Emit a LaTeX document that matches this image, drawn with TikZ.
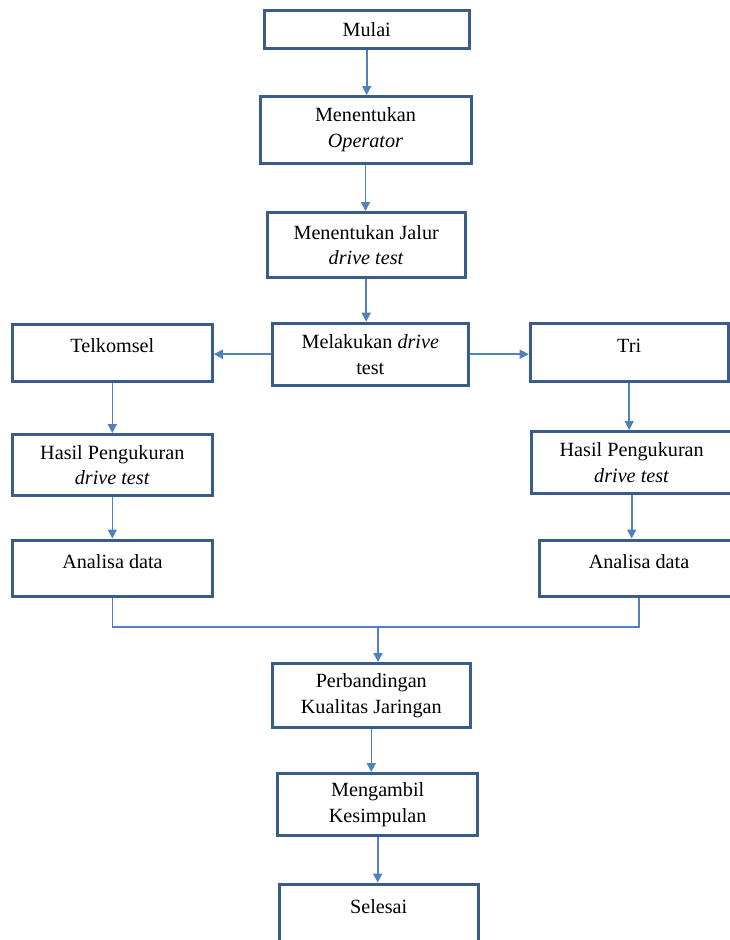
\documentclass[tikz,border=0pt]{standalone}
\usepackage{fontspec}
\setmainfont{Liberation Serif}
\usetikzlibrary{arrows.meta}
\definecolor{garisbiru}{RGB}{56,93,138}
\definecolor{panahbiru}{RGB}{79,129,189}

\begin{document}
\begin{tikzpicture}[x=1pt,y=-1pt,
	kotak/.style={draw=garisbiru,line width=3pt,align=center,inner sep=0pt,
		font=\fontsize{20.2}{25.8}\selectfont},
	teksatas/.style={text height=14pt,text depth=14pt},
	panah/.style={draw=panahbiru,line width=1.6pt,-{Triangle[length=9pt,width=9pt]}},
	sambung/.style={draw=panahbiru,line width=1.6pt}]
	\useasboundingbox (0,0) rectangle (730,940);
	\clip (0,0) rectangle (730,940);
	% alur tengah
	\node[kotak,minimum width=205pt,minimum height=38pt] (mulai) at (366.7,29.2) {Mulai};
	\node[kotak,minimum width=211pt,minimum height=67pt] (operator) at (365.5,130) {Menentukan\\\textit{Operator}};
	\node[kotak,minimum width=198pt,minimum height=65pt] (jalur) at (366.2,245) {Menentukan Jalur\\\textit{drive test}};
	\node[kotak,minimum width=196pt,minimum height=62pt] (lakukan) at (370.3,354.2) {Melakukan \textit{drive}\\test};
	% cabang kiri
	\node[kotak,teksatas,minimum width=200pt,minimum height=57pt] (telkomsel) at (112.3,352.7) {Telkomsel};
	\node[kotak,minimum width=200pt,minimum height=61pt] (hasilkiri) at (112.3,465) {Hasil Pengukuran\\\textit{drive test}};
	\node[kotak,teksatas,minimum width=200pt,minimum height=56pt] (analisakiri) at (112.5,568) {Analisa data};
	% cabang kanan
	\node[kotak,teksatas,minimum width=198pt,minimum height=58pt] (tri) at (629.2,352.2) {Tri};
	\node[kotak,minimum width=200pt,minimum height=62pt] (hasilkanan) at (631.7,462.5) {Hasil Pengukuran\\\textit{drive test}};
	\node[kotak,teksatas,minimum width=200pt,minimum height=56pt] (analisakanan) at (639,568) {Analisa data};
	% penutup
	\node[kotak,minimum width=198pt,minimum height=64pt] (banding) at (371.3,695.5) {Perbandingan\\Kualitas Jaringan};
	\node[kotak,minimum width=200pt,minimum height=62pt] (ambil) at (377.7,804.5) {Mengambil\\Kesimpulan};
	\node[kotak,teksatas,minimum width=199pt,minimum height=58pt] (selesai) at (378.7,913) {Selesai};
	\coordinate (gabung) at (378,627);

	\draw[panah] (mulai.south) -- (mulai.south |- operator.north);
	\draw[panah] (operator.south) -- (operator.south |- jalur.north);
	\draw[panah] (jalur.south) -- (jalur.south |- lakukan.north);
	\draw[panah] (lakukan.west) -- (lakukan.west -| telkomsel.east);
	\draw[panah] (lakukan.east) -- (lakukan.east -| tri.west);
	\draw[panah] (telkomsel.south) -- (telkomsel.south |- hasilkiri.north);
	\draw[panah] (hasilkiri.south) -- (hasilkiri.south |- analisakiri.north);
	\draw[panah] (tri.south) -- (tri.south |- hasilkanan.north);
	\draw[panah] (hasilkanan.south) -- (hasilkanan.south |- analisakanan.north);
	\draw[sambung] (analisakiri.south) |- (gabung) -| (analisakanan.south);
	\draw[panah] (gabung) -- (gabung |- banding.north);
	\draw[panah] (banding.south) -- (banding.south |- ambil.north);
	\draw[panah] (ambil.south) -- (ambil.south |- selesai.north);
\end{tikzpicture}
\end{document}
